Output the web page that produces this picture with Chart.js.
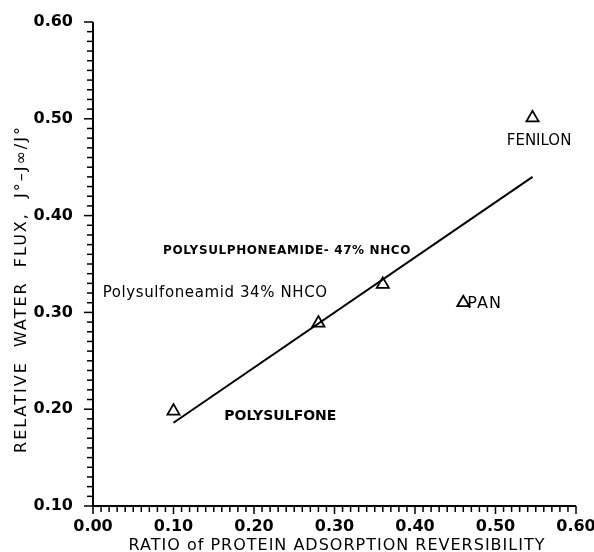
<!DOCTYPE html>
<html>
<head>
<meta charset="utf-8">
<script src="https://cdn.jsdelivr.net/npm/chart.js@4.4.1/dist/chart.umd.min.js"></script>
<style>
html,body{margin:0;padding:0;background:#fff;}
#wrap{width:594px;height:552px;}
</style>
</head>
<body>
<div id="wrap"><canvas id="c" width="594" height="552"></canvas></div>
<script>
// ---- data ----
const materials = ['POLYSULFONE', 'Polysulfoneamid 34% NHCO', 'POLYSULPHONEAMIDE- 47% NHCO', 'PAN', 'FENILON'];
const reversibility = [0.10, 0.28, 0.36, 0.46, 0.546];
const relativeFlux = [0.198, 0.289, 0.329, 0.310, 0.501];
const fitX = [0.10, 0.546];
const fitY = [0.186, 0.440];
const xTickLabels = ['0.00', '0.10', '0.20', '0.30', '0.40', '0.50', '0.60'];
const yTickLabels = ['0.10', '0.20', '0.30', '0.40', '0.50', '0.60'];
const xTitle = 'RATIO of PROTEIN ADSORPTION REVERSIBILITY';
const yTitle = 'RELATIVE  WATER  FLUX,  J\u00B0\u2013J\u221E/J\u00B0';

// label anchors in data units (text placement)
const labelAnchors = [
  {text: materials[0], x: 0.163, y: 0.193, font: 'bold 14px "DejaVu Sans"', spacing: 0},
  {text: materials[1], x: 0.012, y: 0.320, font: '15px "DejaVu Sans"', spacing: 0.6},
  {text: materials[2], x: 0.087, y: 0.364, font: 'bold 12px "DejaVu Sans"', spacing: 0.6},
  {text: materials[3], x: 0.465, y: 0.309, font: '16px "DejaVu Sans"', spacing: 1},
  {text: materials[4], x: 0.514, y: 0.477, font: '15px "DejaVu Sans"', spacing: 0}
];

const points = reversibility.map((x, i) => ({x, y: relativeFlux[i]}));
const fitLine = fitX.map((x, i) => ({x, y: fitY[i]}));

const axesPlugin = {
  id: 'axesPlugin',
  afterDraw(chart) {
    const ctx = chart.ctx;
    const xs = chart.scales.x, ys = chart.scales.y;
    const ca = chart.chartArea;
    ctx.save();
    ctx.strokeStyle = '#000';
    ctx.lineWidth = 2;
    ctx.beginPath();
    ctx.moveTo(ca.left, ca.top);
    ctx.lineTo(ca.left, ca.bottom);
    ctx.lineTo(ca.right, ca.bottom);
    ctx.stroke();
    ctx.lineWidth = 1.5;
    for (let i = 0; i <= 60; i++) {
      const v = i / 100;
      const px = xs.getPixelForValue(v);
      const len = (i % 10 === 0) ? 8 : 6;
      ctx.beginPath();
      ctx.moveTo(px, ca.bottom);
      ctx.lineTo(px, ca.bottom + len);
      ctx.stroke();
    }
    for (let i = 10; i <= 60; i++) {
      const v = i / 100;
      const py = ys.getPixelForValue(v);
      const len = (i % 10 === 0) ? 9 : 6;
      ctx.beginPath();
      ctx.moveTo(ca.left, py);
      ctx.lineTo(ca.left - len, py);
      ctx.stroke();
    }
    // text labels
    ctx.fillStyle = '#000';
    ctx.textBaseline = 'middle';
    ctx.textAlign = 'left';
    labelAnchors.forEach(l => {
      ctx.font = l.font;
      ctx.letterSpacing = l.spacing + 'px';
      ctx.fillText(l.text, xs.getPixelForValue(l.x), ys.getPixelForValue(l.y));
    });
    // axis titles
    ctx.font = '16px "DejaVu Sans"';
    ctx.letterSpacing = '1px';
    ctx.textAlign = 'center';
    ctx.fillText(xTitle, 337, 546);
    ctx.save();
    ctx.translate(22, 289);
    ctx.rotate(-Math.PI / 2);
    ctx.letterSpacing = '2px';
    ctx.fillText(yTitle, 0, 0);
    ctx.restore();
    ctx.restore();
  }
};

new Chart(document.getElementById('c'), {
  type: 'scatter',
  data: {
    datasets: [
      {
        label: 'membranes',
        data: points,
        pointStyle: 'triangle',
        pointRadius: 7,
        pointBorderWidth: 1.8,
        pointBorderColor: '#000',
        pointBackgroundColor: 'rgba(0,0,0,0)',
        showLine: false
      },
      {
        label: 'fit',
        data: fitLine,
        showLine: true,
        borderColor: '#000',
        borderWidth: 2,
        pointRadius: 0,
        fill: false
      }
    ]
  },
  options: {
    responsive: false,
    animation: false,
    layout: {padding: {left: 0, right: 18, top: 22, bottom: 0}},
    plugins: {legend: {display: false}, tooltip: {enabled: false}},
    scales: {
      x: {
        type: 'linear', min: 0, max: 0.6,
        grid: {display: false, drawTicks: false},
        border: {display: false},
        afterBuildTicks(s) { s.ticks = xTickLabels.map(t => ({value: parseFloat(t)})); },
        afterFit(s) { s.height = 46; s.paddingLeft = 0; s.paddingRight = 0; },
        ticks: {
          padding: 11, color: '#000', maxRotation: 0, autoSkip: false,
          font: {family: 'DejaVu Sans', size: 16, weight: 'bold'},
          callback: (v, i) => xTickLabels[i]
        },
        title: {display: false}
      },
      y: {
        type: 'linear', min: 0.1, max: 0.6,
        grid: {display: false, drawTicks: false},
        border: {display: false},
        afterBuildTicks(s) { s.ticks = yTickLabels.map(t => ({value: parseFloat(t)})); },
        afterFit(s) { s.width = 93; s.paddingTop = 0; s.paddingBottom = 0; },
        ticks: {
          padding: 20, color: '#000', autoSkip: false,
          font: {family: 'DejaVu Sans', size: 16, weight: 'bold'},
          callback: (v, i) => yTickLabels[i]
        },
        title: {display: false}
      }
    }
  },
  plugins: [axesPlugin]
});
</script>
</body>
</html>
